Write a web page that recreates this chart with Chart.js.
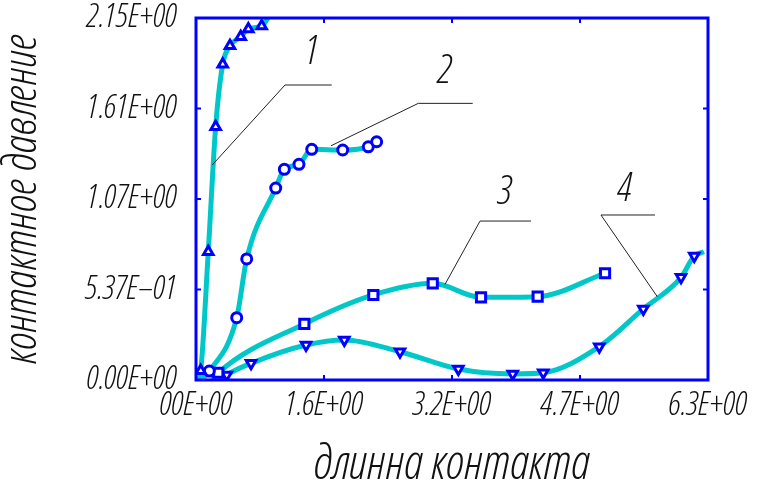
<!DOCTYPE html>
<html>
<head>
<meta charset="utf-8">
<script src="https://cdn.jsdelivr.net/npm/chart.js@4.4.1/dist/chart.umd.min.js"></script>
<style>
  html, body { margin: 0; padding: 0; background: #fff; }
  #wrap { width: 763px; height: 489px; }
</style>
</head>
<body>
<div id="wrap"><canvas id="chart"></canvas></div>
<script>
// axis ticks
const xTickValues = [0, 1.575, 3.15, 4.725, 6.3];
const xTickLabels = ['00E+00', '1.6E+00', '3.2E+00', '4.7E+00', '6.3E+00'];
const yTickValues = [0, 0.5375, 1.075, 1.6125, 2.15];
const yTickLabels = ['0.00E+00', '5.37E\u201301', '1.07E+00', '1.61E+00', '2.15E+00'];

// curve 1 (triangles)
const c1X = [0.058, 0.151, 0.242, 0.329, 0.418, 0.55, 0.644, 0.808];
const c1Y = [0.055, 0.762, 1.504, 1.875, 1.985, 2.039, 2.084, 2.102];
const c1Start = [0.02, 0.0];
const c1End = [0.886, 2.15];

// curve 2 (circles)
const c2X = [0.164, 0.501, 0.624, 0.981, 1.087, 1.267, 1.424, 1.805, 2.12, 2.223];
const c2Y = [0.053, 0.37, 0.719, 1.14, 1.251, 1.281, 1.37, 1.366, 1.385, 1.415];
const c2Start = [0.06, 0.0];

// curve 3 (squares)
const c3X = [0.274, 1.333, 2.182, 2.913, 3.507, 4.204, 5.033];
const c3Y = [0.043, 0.333, 0.505, 0.574, 0.491, 0.495, 0.634];
const c3Start = [0.2, 0.0];

// curve 4 (down triangles)
const c4X = [0.378, 0.677, 1.354, 1.825, 2.51, 3.228, 3.897, 4.273, 4.962, 5.504, 5.968, 6.131];
const c4Y = [0.03, 0.099, 0.208, 0.238, 0.168, 0.065, 0.036, 0.043, 0.198, 0.422, 0.61, 0.736];
const c4Start = [0.3, 0.0];
const c4End = [6.251, 0.762];

// curve labels with leader lines: [start, elbow, end of shelf], label position
const leaderNames = ['1', '2', '3', '4'];
const leaderStart = [[0.2, 1.277], [1.661, 1.391], [3.064, 0.568], [5.676, 0.495]];
const leaderElbow = [[1.095, 1.752], [2.735, 1.643], [3.495, 0.944], [4.983, 0.98]];
const leaderShelfEnd = [1.67, 3.405, 4.122, 5.648];
const leaderLabelPos = [[1.427, 1.942], [3.064, 1.831], [3.802, 1.11], [5.279, 1.128]];

const FONT = "'Open Sans', 'DejaVu Sans Condensed', sans-serif";
const WEIGHT = '300 condensed';
const TICK_WEIGHT = '300 semi-condensed';
const LINE_COLOR = '#00c8c8';
const MARK_COLOR = '#0000ff';

const pts = (xs, ys) => xs.map((x, i) => ({ x, y: ys[i] }));
const withEnds = (start, xs, ys, end) => {
  const arr = [];
  if (start) arr.push({ x: start[0], y: start[1] });
  arr.push(...pts(xs, ys));
  if (end) arr.push({ x: end[0], y: end[1] });
  return arr;
};

const lineSet = (data) => ({
  data,
  showLine: true,
  borderColor: LINE_COLOR,
  borderWidth: 5,
  pointRadius: 0,
  cubicInterpolationMode: 'monotone',
  fill: false,
  order: 2,
});

const markSet = (data, style, radius, rotation) => ({
  data,
  showLine: false,
  pointStyle: style,
  rotation: rotation || 0,
  pointRadius: radius,
  borderWidth: 3,
  pointBorderWidth: 3,
  borderColor: MARK_COLOR,
  backgroundColor: '#ffffff',
  order: 1,
});

// рамка и засечки внутрь
const framePlugin = {
  id: 'frame',
  afterDatasetsDraw(chart) {
    const { ctx, chartArea: a, scales } = chart;
    ctx.save();
    ctx.strokeStyle = MARK_COLOR;
    ctx.lineWidth = 3;
    ctx.strokeRect(a.left, a.top, a.right - a.left, a.bottom - a.top);
    ctx.lineWidth = 2;
    ctx.beginPath();
    xTickValues.forEach(v => {
      const px = scales.x.getPixelForValue(v);
      ctx.moveTo(px, a.bottom); ctx.lineTo(px, a.bottom - 5);
      ctx.moveTo(px, a.top); ctx.lineTo(px, a.top + 5);
    });
    yTickValues.forEach(v => {
      const py = scales.y.getPixelForValue(v);
      ctx.moveTo(a.left, py); ctx.lineTo(a.left + 5, py);
      ctx.moveTo(a.right, py); ctx.lineTo(a.right - 5, py);
    });
    ctx.stroke();

    // выноски 1..4
    const sx = scales.x, sy = scales.y;
    ctx.strokeStyle = '#222';
    ctx.lineWidth = 1;
    ctx.fillStyle = '#111';
    ctx.font = 'italic ' + WEIGHT + ' 40px ' + FONT;
    ctx.textAlign = 'center';
    ctx.textBaseline = 'middle';
    leaderNames.forEach((name, i) => {
      const s = leaderStart[i], e = leaderElbow[i];
      const ex = sx.getPixelForValue(e[0]), ey = sy.getPixelForValue(e[1]);
      ctx.beginPath();
      ctx.moveTo(sx.getPixelForValue(s[0]), sy.getPixelForValue(s[1]));
      ctx.lineTo(ex, ey);
      ctx.lineTo(sx.getPixelForValue(leaderShelfEnd[i]), ey);
      ctx.stroke();
      const p = leaderLabelPos[i];
      ctx.fillText(name, sx.getPixelForValue(p[0]), sy.getPixelForValue(p[1]));
    });
    ctx.restore();
  },
};

new Chart(document.getElementById('chart'), {
  type: 'scatter',
  data: {
    datasets: [
      lineSet(withEnds(c1Start, c1X, c1Y, c1End)),
      lineSet(withEnds(c2Start, c2X, c2Y)),
      lineSet(withEnds(c3Start, c3X, c3Y)),
      lineSet(withEnds(c4Start, c4X, c4Y, c4End)),
      markSet(pts(c1X, c1Y), 'triangle', 5.5),
      markSet(pts(c2X, c2Y), 'circle', 5),
      markSet(pts(c3X, c3Y), 'rect', 6.5),
      markSet(pts(c4X, c4Y), 'triangle', 5.5, 180),
    ],
  },
  options: {
    responsive: true,
    maintainAspectRatio: false,
    animation: false,
    layout: { padding: { top: 18, right: 55, left: 0, bottom: 0 } },
    plugins: { legend: { display: false }, tooltip: { enabled: false } },
    scales: {
      x: {
        type: 'linear',
        min: 0,
        max: 6.3,
        afterBuildTicks: (scale) => { scale.ticks = xTickValues.map(v => ({ value: v })); },
        afterFit: (scale) => {
          scale.height = 109;
          scale.paddingLeft = 0;
          scale.paddingRight = 0;
        },
        grid: { display: false, drawTicks: false },
        border: { display: false },
        ticks: {
          padding: 6,
          color: '#111',
          font: { family: FONT, size: 33, style: 'italic', weight: TICK_WEIGHT },
          callback: (v, i) => xTickLabels[i],
        },
        title: {
          display: true,
          text: 'длинна контакта',
          color: '#111',
          font: { family: FONT, size: 48, style: 'italic', weight: WEIGHT, lineHeight: 1 },
          padding: { top: 0, bottom: 0 },
        },
      },
      y: {
        type: 'linear',
        min: 0,
        max: 2.15,
        afterBuildTicks: (scale) => { scale.ticks = yTickValues.map(v => ({ value: v })); },
        afterFit: (scale) => {
          scale.width = 196;
          scale.paddingTop = 0;
          scale.paddingBottom = 0;
        },
        grid: { display: false, drawTicks: false },
        border: { display: false },
        ticks: {
          padding: 19,
          color: '#111',
          font: { family: FONT, size: 33, style: 'italic', weight: TICK_WEIGHT },
          callback: (v, i) => yTickLabels[i],
        },
        title: {
          display: true,
          text: 'контактное давление',
          color: '#111',
          font: { family: FONT, size: 46, style: 'italic', weight: WEIGHT, lineHeight: 1 },
          padding: { top: 0, bottom: 0 },
        },
      },
    },
  },
  plugins: [framePlugin],
});
</script>
</body>
</html>
